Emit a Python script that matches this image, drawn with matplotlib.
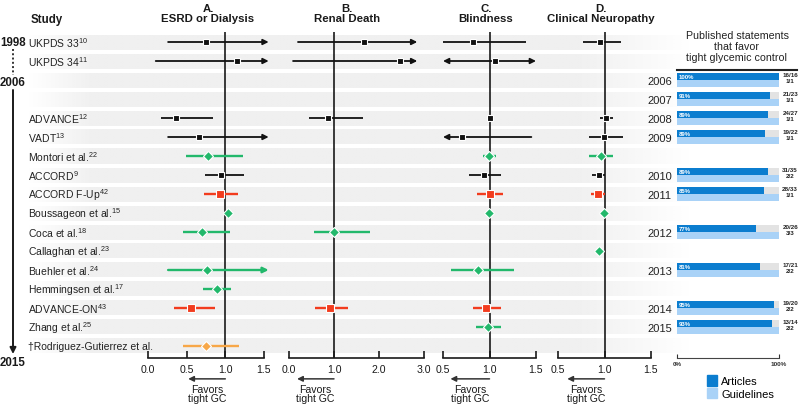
import numpy as np
import matplotlib.pyplot as plt
from matplotlib.patches import Patch
from matplotlib.colors import to_rgb

plt.rcParams['font.family'] = ['Liberation Sans', 'DejaVu Sans']
plt.rcParams['mathtext.fontset'] = 'custom'
plt.rcParams['mathtext.rm'] = 'Liberation Sans'

# ---- data -----------------------------------------------------------------
study_names = ['UKPDS 33', 'UKPDS 34', '', '', 'ADVANCE', 'VADT', 'Montori et al.',
               'ACCORD', 'ACCORD F-Up', 'Boussageon et al.', 'Coca et al.',
               'Callaghan et al.', 'Buehler et al.', 'Hemmingsen et al.', 'ADVANCE-ON',
               'Zhang et al.', '\u2020Rodriguez-Gutierrez et al.']
study_refs = ['10', '11', '', '', '12', '13', '22', '9', '42', '15', '18', '23', '24',
              '17', '43', '25', '']
# trial = black square, meta = green diamond, fup = red square, new = orange diamond
study_kind = ['trial', 'trial', '', '', 'trial', 'trial', 'meta', 'trial', 'fup', 'meta',
              'meta', 'meta', 'meta', 'meta', 'fup', 'meta', 'new']

# A. ESRD or Dialysis
esrd_rows = [0, 1, 4, 5, 6, 7, 8, 9, 10, 12, 13, 14, 16]
esrd_est = [0.75, 1.15, 0.36, 0.66, 0.78, 0.95, 0.93, 1.04, 0.70, 0.76, 0.89, 0.56, 0.75]
esrd_lo = [0.26, 0.10, 0.17, 0.26, 0.49, 0.74, 0.72, 1.04, 0.45, 0.26, 0.71, 0.34, 0.45]
esrd_hi = [1.56, 1.56, 0.84, 1.56, 1.23, 1.24, 1.17, 1.04, 1.06, 1.56, 1.07, 0.86, 1.18]
esrd_arrow = ['r', 'r', '', 'r', '', '', '', '', '', 'r', '', '', '']

# B. Renal Death
renal_rows = [0, 1, 4, 10, 14]
renal_est = [1.67, 2.47, 0.87, 1.00, 0.91]
renal_lo = [0.20, 0.09, 0.45, 0.56, 0.58]
renal_hi = [2.85, 2.85, 1.64, 1.80, 1.31]
renal_arrow = ['r', 'r', '', '', '']

# C. Blindness
blind_rows = [0, 1, 4, 5, 6, 7, 8, 9, 12, 14, 15]
blind_est = [0.82, 1.06, 1.00, 0.70, 0.99, 0.94, 1.00, 0.99, 0.88, 0.96, 0.98]
blind_lo = [0.50, 0.50, 1.00, 0.50, 0.93, 0.78, 0.87, 0.96, 0.59, 0.82, 0.86]
blind_hi = [1.39, 1.50, 1.00, 1.45, 1.07, 1.12, 1.14, 1.03, 1.26, 1.12, 1.12]
blind_arrow = ['', 'lr', '', 'l', '', '', '', '', '', '', '']

# D. Clinical Neuropathy
neuro_rows = [0, 4, 5, 6, 7, 8, 9, 11]
neuro_est = [0.95, 1.02, 0.99, 0.96, 0.94, 0.93, 0.99, 0.94]
neuro_lo = [0.77, 0.95, 0.83, 0.83, 0.87, 0.86, 0.99, 0.94]
neuro_hi = [1.18, 1.09, 1.20, 1.09, 1.01, 1.01, 0.99, 0.94]
neuro_arrow = ['', '', '', '', '', '', '', '']

# Published statements that favor tight glycemic control
bar_years = ['2006', '2007', '2008', '2009', '2010', '2011', '2012', '2013', '2014', '2015']
bar_rows = [2, 3, 4, 5, 7, 8, 10, 12, 14, 15]
articles_pct = [100, 91, 89, 86, 89, 85, 77, 81, 95, 93]
articles_label = ['100%', '91%', '89%', '89%', '89%', '85%', '77%', '81%', '95%', '93%']
articles_frac = ['16/16', '21/23', '24/27', '19/22', '31/35', '28/33', '20/26', '17/21',
                 '19/20', '13/14']
guidelines_pct = [100, 100, 100, 100, 100, 100, 100, 100, 100, 100]
guidelines_frac = ['1/1', '1/1', '1/1', '1/1', '2/2', '1/1', '3/3', '2/2', '2/2', '2/2']

# ---- layout / style -------------------------------------------------------
W, H = 800, 406
ROW0, ROWH = 43, 19          # pixel centre of first row, row pitch
Y_TOP, Y_BOT = 33, 359       # vertical extent of the panels
DARK = '#1a1a1a'
STYLE = {'trial': ('#111111', 's', 5.0, 1.3),
         'meta': ('#22b86b', 'D', 5.4, 1.7),
         'fup': ('#f23c1e', 's', 5.8, 1.7),
         'new': ('#f7a748', 'D', 5.4, 1.7)}

fig = plt.figure(figsize=(W / 100, H / 100), dpi=100)
bg = fig.add_axes([0, 0, 1, 1])
bg.axis('off')

# striped row backgrounds, fading at both ends
fade = np.ones(400)
fade[:40] = np.linspace(0, 1, 40)
fade[-70:] = np.linspace(1, 0, 70)
band = np.zeros((1, 400, 4))
band[..., :3] = to_rgb('#f0f0f0')
band[..., 3] = fade
for i in range(len(study_names)):
    yc = ROW0 + ROWH * i
    bg.imshow(band, extent=[28, 690, yc + 7.5, yc - 7.5], aspect='auto',
              interpolation='bilinear', zorder=0)
bg.set_xlim(0, W)
bg.set_ylim(H, 0)

# timeline on the left
bold = dict(fontsize=8.3, fontweight='bold', va='center', ha='left', color=DARK)
bg.text(0, 43, '1998', **bold)
bg.text(0, 83, '2006', **bold)
bg.text(0, 363, '2015', **bold)
bg.plot([13, 13], [50, 76], ls=(0, (1, 1.2)), color='#333333', lw=1.4)
bg.annotate('', xy=(13, 355), xytext=(13, 91),
            arrowprops=dict(arrowstyle='-|>', color=DARK, lw=1.4, shrinkA=0, shrinkB=0,
                            mutation_scale=9))

# column headers
bg.text(47, 20, 'Study', fontsize=8.3, fontweight='bold', ha='center', va='center', color=DARK)
for xc, letter, name in [(208, 'A.', 'ESRD or Dialysis'), (347, 'B.', 'Renal Death'),
                         (486, 'C.', 'Blindness'), (601, 'D.', 'Clinical Neuropathy')]:
    bg.text(xc, 8.5, letter, fontsize=8.2, fontweight='bold', ha='center', va='center',
            color=DARK)
    bg.text(xc, 19.5, name, fontsize=8.2, fontweight='bold', ha='center', va='center',
            color=DARK)

# study names
for i, (name, ref) in enumerate(zip(study_names, study_refs)):
    if not name:
        continue
    label = name + (r'$^{\mathregular{%s}}$' % ref if ref else '')
    bg.text(28, ROW0 + ROWH * i + 0.5, label, fontsize=7.5, va='center', ha='left',
            color='#222222')


def panel_axes(p0, p1):
    ax = fig.add_axes([p0 / W, 1 - Y_BOT / H, (p1 - p0) / W, (Y_BOT - Y_TOP) / H])
    ax.set_ylim((Y_BOT - ROW0) / ROWH, (Y_TOP - ROW0) / ROWH)
    ax.patch.set_visible(False)
    for s in ['top', 'right', 'left']:
        ax.spines[s].set_visible(False)
    ax.set_yticks([])
    return ax


panels = [
    ((0, 1.5), (148, 264), [0, 0.5, 1.0, 1.5], 0.52,
     (esrd_rows, esrd_lo, esrd_est, esrd_hi, esrd_arrow)),
    ((0, 3.0), (289, 424), [0, 1.0, 2.0, 3.0], 0.18,
     (renal_rows, renal_lo, renal_est, renal_hi, renal_arrow)),
    ((0.5, 1.5), (443, 536), [0.5, 1.0, 1.5], 0.58,
     (blind_rows, blind_lo, blind_est, blind_hi, blind_arrow)),
    ((0.5, 1.5), (558, 651), [0.5, 1.0, 1.5], 0.60,
     (neuro_rows, neuro_lo, neuro_est, neuro_hi, neuro_arrow)),
]

for xlim, px, ticks, fav_end, (rows, lo, est, hi, arrows) in panels:
    ax = panel_axes(*px)
    ax.set_xlim(*xlim)
    ax.spines['bottom'].set_bounds(*xlim)
    ax.spines['bottom'].set_linewidth(1.2)
    ax.spines['bottom'].set_color(DARK)
    ax.set_xticks(ticks)
    ax.set_xticklabels(['%.1f' % t for t in ticks])
    ax.tick_params(axis='x', direction='in', length=5, width=1.2, pad=4, labelsize=7.6,
                   colors=DARK)
    ax.axvline(1.0, color=DARK, lw=1.2, zorder=1)

    for r, l, e, h, a in zip(rows, lo, est, hi, arrows):
        color, marker, ms, lw = STYLE[study_kind[r]]
        if a:
            style = {'r': '-|>', 'l': '<|-', 'lr': '<|-|>'}[a]
            ax.annotate('', xy=(h, r), xytext=(l, r), annotation_clip=False,
                        arrowprops=dict(arrowstyle=style, color=color, lw=lw,
                                        shrinkA=0, shrinkB=0, mutation_scale=8))
        elif h > l:
            ax.plot([l, h], [r, r], color=color, lw=lw, solid_capstyle='butt',
                    clip_on=False, zorder=3)
        ax.plot(e, r, marker=marker, ms=ms, color=color, mec='white', mew=0.8,
                zorder=5, clip_on=False)

    # "Favors tight GC"
    ax.annotate('', xy=(fav_end, -0.064), xytext=(1.0, -0.064),
                xycoords=('data', 'axes fraction'), textcoords=('data', 'axes fraction'),
                annotation_clip=False,
                arrowprops=dict(arrowstyle='-|>', color='#333333', lw=1.1,
                                shrinkA=0, shrinkB=0, mutation_scale=8))
    ax.text(0.5 * (fav_end + 1.0), -0.108, 'Favors\ntight GC', fontsize=7.6,
            ha='center', va='center', linespacing=0.9, color=DARK,
            transform=ax.get_xaxis_transform(), clip_on=False)

# right panel: published statements
axb = panel_axes(677, 779)
axb.set_xlim(0, 100)
axb.spines['bottom'].set_bounds(0, 100)
axb.spines['bottom'].set_color('#444444')
axb.set_xticks([0, 100])
axb.set_xticklabels(['0%', '100%'])
axb.tick_params(axis='x', direction='in', length=3, pad=2, labelsize=4.6, colors='#333333')
for lab in axb.get_xticklabels():
    lab.set_fontweight('bold')

rows = np.array(bar_rows, dtype=float)
axb.barh(rows - 0.18, [100] * len(rows), height=0.37, color='#e3e3e3', zorder=1)
axb.barh(rows - 0.18, articles_pct, height=0.37, color='#0b7dcf', zorder=2,
         label='Articles')
axb.barh(rows + 0.19, guidelines_pct, height=0.37, color='#a9d2f7', zorder=2,
         label='Guidelines')
for r, yr, pl, fa, fg in zip(rows, bar_years, articles_label, articles_frac,
                             guidelines_frac):
    axb.text(-5, r + 0.05, yr, fontsize=8, ha='right', va='center', color='#222222',
             clip_on=False)
    axb.text(1.5, r - 0.17, pl, fontsize=4.3, fontweight='bold', color='white',
             ha='left', va='center', zorder=3)
    axb.text(111, r - 0.27, fa, fontsize=4.5, fontweight='bold', color='#222222',
             ha='center', va='center', clip_on=False)
    axb.text(111, r + 0.05, fg, fontsize=4.5, fontweight='bold', color='#222222',
             ha='center', va='center', clip_on=False)

bg.plot([677, 797], [71, 71], color='#222222', lw=1.5)
bg.text(737, 47, 'Published statements\nthat favor\ntight glycemic control',
        fontsize=7.7, ha='center', va='center', linespacing=1.1, color='#222222')

handles = [Patch(color='#0b7dcf'), Patch(color='#a9d2f7')]
fig.legend(handles, ['Articles', 'Guidelines'], loc='upper left',
           bbox_to_anchor=(707 / W, 1 - 376 / H), frameon=False, fontsize=8,
           handlelength=0.9, handleheight=1.1, handletextpad=0.4, labelspacing=0.15,
           borderpad=0, borderaxespad=0)

fig.savefig('out.png', dpi=100)
